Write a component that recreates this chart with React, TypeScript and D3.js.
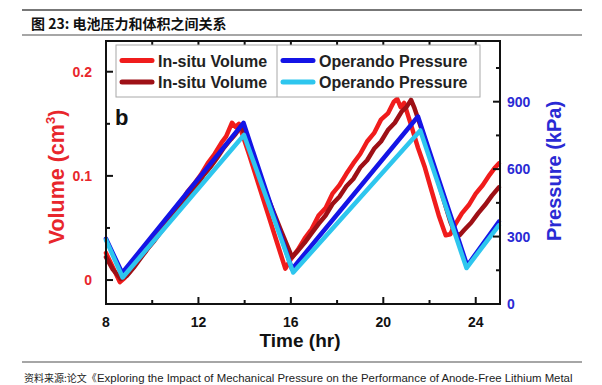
import React from "react";
import * as d3 from "d3";

// ---------- data ----------
const redT = [8.0, 8.3, 8.6, 8.8, 9.1, 9.4, 9.7, 10.0, 10.3, 10.6, 10.9, 11.2, 11.5, 11.8, 12.1, 12.4, 12.7, 13.0, 13.2, 13.45, 13.6, 13.75, 14.2, 14.6, 15.0, 15.4, 15.76, 16.0, 16.3, 16.6, 16.9, 17.2, 17.5, 17.8, 18.1, 18.4, 18.7, 19.0, 19.3, 19.6, 19.9, 20.2, 20.45, 20.6, 20.75, 20.9, 21.2, 21.5, 21.8, 22.1, 22.4, 22.7, 22.9, 23.1, 23.4, 23.7, 24.0, 24.3, 24.6, 24.8, 25.0];
const redV = [0.026, 0.012, -0.002, 0.002, 0.010, 0.020, 0.027, 0.040, 0.046, 0.058, 0.066, 0.073, 0.084, 0.092, 0.101, 0.112, 0.121, 0.132, 0.138, 0.151, 0.147, 0.150, 0.120, 0.092, 0.064, 0.036, 0.011, 0.020, 0.029, 0.040, 0.049, 0.062, 0.069, 0.083, 0.091, 0.102, 0.112, 0.121, 0.133, 0.141, 0.154, 0.160, 0.171, 0.174, 0.166, 0.170, 0.149, 0.127, 0.108, 0.085, 0.062, 0.043, 0.044, 0.053, 0.064, 0.072, 0.083, 0.091, 0.101, 0.107, 0.112];

const darkT = [8.0, 8.3, 8.65, 8.9, 9.2, 9.5, 9.8, 10.1, 10.4, 10.7, 11.0, 11.3, 11.6, 11.9, 12.2, 12.5, 12.8, 13.1, 13.4, 13.6, 13.85, 14.0, 14.4, 14.8, 15.2, 15.6, 16.05, 16.3, 16.6, 16.9, 17.2, 17.5, 17.8, 18.1, 18.4, 18.7, 19.0, 19.3, 19.6, 19.9, 20.2, 20.5, 20.8, 21.0, 21.2, 21.35, 21.7, 22.0, 22.3, 22.6, 22.9, 23.1, 23.3, 23.5, 23.8, 24.1, 24.4, 24.7, 25.0];
const darkV = [0.022, 0.010, 0.001, 0.004, 0.012, 0.021, 0.030, 0.038, 0.047, 0.056, 0.064, 0.073, 0.082, 0.090, 0.100, 0.108, 0.117, 0.127, 0.135, 0.140, 0.148, 0.140, 0.114, 0.090, 0.068, 0.046, 0.022, 0.028, 0.036, 0.045, 0.054, 0.062, 0.073, 0.080, 0.090, 0.097, 0.108, 0.115, 0.126, 0.133, 0.144, 0.151, 0.162, 0.166, 0.173, 0.165, 0.142, 0.120, 0.100, 0.078, 0.056, 0.045, 0.043, 0.048, 0.055, 0.064, 0.072, 0.081, 0.089];

const blueT = [8.0, 8.7, 13.95, 16.05, 21.5, 23.63, 25.0];
const blueP = [290, 138, 806, 155, 834, 170, 366];

const cyanT = [8.0, 8.72, 13.97, 16.1, 21.6, 23.6, 25.0];
const cyanP = [285, 118, 752, 140, 772, 160, 350];

const xMajor = [8, 12, 16, 20, 24];
const xMinor = [10, 14, 18, 22];
const yLMajor = [0, 0.1, 0.2];
const yLLabels = ["0", "0.1", "0.2"];
const yLMinor = [0.05, 0.15];
const yRMajor = [0, 300, 600, 900];
const yRMinor = [150, 450, 750, 1050];

const legendLabels = ["In-situ Volume", "In-situ Volume", "Operando Pressure", "Operando Pressure"];

const COL_RED = "#f01c1c";
const COL_DARK = "#9e1016";
const COL_BLUE = "#1414e6";
const COL_CYAN = "#2ec6ee";
const AX_RED = "#e8262c";
const AX_BLUE = "#2a2ad4";

export default function App() {
  const L = 106, R = 500, T = 41, B = 304;
  const x = d3.scaleLinear().domain([8, 25.05]).range([L, R]);
  const yL = d3.scaleLinear().domain([-0.023, 0.2295]).range([B, T]);
  const yR = d3.scaleLinear().domain([0, 1170]).range([B, T]);

  const lineL = d3.line<[number, number]>().x((d) => x(d[0])).y((d) => yL(d[1]));
  const lineR = d3.line<[number, number]>().x((d) => x(d[0])).y((d) => yR(d[1]));

  const red = redT.map((t, i) => [t, redV[i]] as [number, number]);
  const dark = darkT.map((t, i) => [t, darkV[i]] as [number, number]);
  const blue = blueT.map((t, i) => [t, blueP[i]] as [number, number]);
  const cyan = cyanT.map((t, i) => [t, cyanP[i]] as [number, number]);

  const font = "'Liberation Sans', Arial, sans-serif";
  const maj = 7, min = 4;

  const legendRows = [
    { x: 122, y: 60.5, color: COL_RED, label: legendLabels[0] },
    { x: 122, y: 82, color: COL_DARK, label: legendLabels[1] },
    { x: 283, y: 60.5, color: COL_BLUE, label: legendLabels[2] },
    { x: 283, y: 82, color: COL_CYAN, label: legendLabels[3] },
  ];

  return (
    <div style={{ position: "absolute", left: 0, top: 0 }}>
      <svg width={602} height={385} style={{ display: "block", background: "#fff" }}>
        {/* header */}
        <line x1={22} x2={582} y1={10} y2={10} stroke="#777" strokeWidth={2} />
        <text x={31} y={28.5} fontFamily="'Noto Sans CJK SC', sans-serif" fontWeight={700} fontSize={14} fill="#111">
          图 23:  电池压力和体积之间关系
        </text>
        <line x1={22} x2={582} y1={35} y2={35} stroke="#888" strokeWidth={1.5} />

        {/* series */}
        <g fill="none" strokeLinejoin="round" strokeLinecap="round">
          <path d={lineL(red) || ""} stroke={COL_RED} strokeWidth={4.5} />
          <path d={lineL(dark) || ""} stroke={COL_DARK} strokeWidth={4.5} />
          <path d={lineR(blue) || ""} stroke={COL_BLUE} strokeWidth={4.5} />
          <path d={lineR(cyan) || ""} stroke={COL_CYAN} strokeWidth={4.5} />
        </g>

        {/* frame */}
        <rect x={L} y={T} width={R - L} height={B - T} fill="none" stroke="#111" strokeWidth={2} />

        {/* ticks */}
        <g stroke="#111" strokeWidth={2}>
          {xMajor.map((v) => (
            <g key={"xm" + v}>
              <line x1={x(v)} x2={x(v)} y1={B} y2={B - maj} />
              <line x1={x(v)} x2={x(v)} y1={T} y2={T + maj} />
            </g>
          ))}
          {xMinor.map((v) => (
            <g key={"xn" + v}>
              <line x1={x(v)} x2={x(v)} y1={B} y2={B - min} />
              <line x1={x(v)} x2={x(v)} y1={T} y2={T + min} />
            </g>
          ))}
          {yLMajor.map((v) => (
            <line key={"yl" + v} x1={L} x2={L + maj} y1={yL(v)} y2={yL(v)} />
          ))}
          {yLMinor.map((v) => (
            <line key={"yln" + v} x1={L} x2={L + min} y1={yL(v)} y2={yL(v)} />
          ))}
          {yRMajor.map((v) => (
            <line key={"yr" + v} x1={R} x2={R - maj} y1={yR(v)} y2={yR(v)} />
          ))}
          {yRMinor.map((v) => (
            <line key={"yrn" + v} x1={R} x2={R - min} y1={yR(v)} y2={yR(v)} />
          ))}
        </g>

        {/* tick labels */}
        <g fontFamily={font} fontWeight={700} fontSize={14}>
          {xMajor.map((v) => (
            <text key={"xl" + v} x={x(v)} y={327} textAnchor="middle" fill="#111">
              {v}
            </text>
          ))}
          {yLMajor.map((v, i) => (
            <text key={"yll" + v} x={92} y={yL(v) + 5} textAnchor="end" fill={AX_RED}>
              {yLLabels[i]}
            </text>
          ))}
          {yRMajor.map((v) => (
            <text key={"yrl" + v} x={507} y={yR(v) + 5} textAnchor="start" fill={AX_BLUE}>
              {v}
            </text>
          ))}
        </g>

        {/* axis titles */}
        <text x={300} y={347} textAnchor="middle" fontFamily={font} fontWeight={700} fontSize={19} fill="#111">
          Time (hr)
        </text>
        <text
          transform={`translate(64, 177) rotate(-90)`}
          textAnchor="middle"
          fontFamily={font}
          fontWeight={700}
          fontSize={21.5}
          fill={AX_RED}
        >
          Volume (cm<tspan fontSize={13} dy={-9}>3</tspan><tspan dy={9}>)</tspan>
        </text>
        <text
          transform={`translate(561, 171) rotate(-90)`}
          textAnchor="middle"
          fontFamily={font}
          fontWeight={700}
          fontSize={20}
          fill={AX_BLUE}
        >
          Pressure (kPa)
        </text>

        {/* panel letter */}
        <text x={115} y={125} fontFamily={font} fontWeight={700} fontSize={22} fill="#111">
          b
        </text>

        {/* legend */}
        <rect x={116} y={45} width={364} height={52} fill="#fff" stroke="#a8a8a8" strokeWidth={1} />
        <line x1={277} x2={277} y1={45} y2={97} stroke="#a8a8a8" strokeWidth={1} />
        {legendRows.map((r, i) => (
          <g key={"lg" + i}>
            <line x1={r.x} x2={r.x + 30} y1={r.y} y2={r.y} stroke={r.color} strokeWidth={5} strokeLinecap="round" />
            <text x={r.x + 36} y={r.y + 6} fontFamily={font} fontWeight={700} fontSize={16} fill="#222">
              {r.label}
            </text>
          </g>
        ))}

        {/* footer */}
        <line x1={22} x2={582} y1={362} y2={362} stroke="#888" strokeWidth={1.5} />
        <text x={24} y={382} fontSize={10} fill="#222" fontFamily="'Noto Sans CJK SC', serif">
          资料来源:论文《
        </text>
        <text x={97} y={382} fontSize={11.4} fill="#222" fontFamily={font}>
          Exploring the Impact of Mechanical Pressure on the Performance of Anode-Free Lithium Metal
        </text>
      </svg>
    </div>
  );
}
